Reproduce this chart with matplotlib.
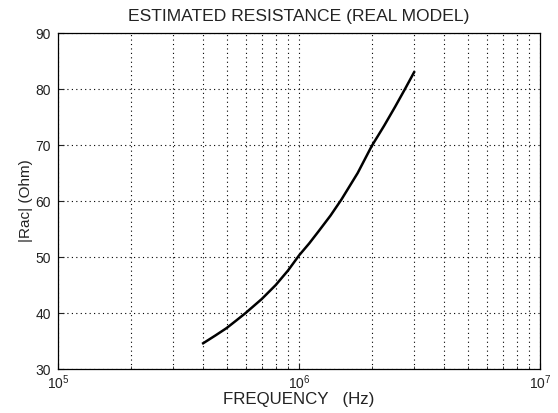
import matplotlib
matplotlib.use("Agg")
import matplotlib.pyplot as plt
from matplotlib.ticker import LogLocator, NullFormatter

# values
freq_hz = [4e5, 4.5e5, 5e5, 5.5e5, 6e5, 7e5, 8e5, 9e5, 1e6, 1.1e6, 1.2e6,
           1.35e6, 1.5e6, 1.75e6, 2e6, 2.25e6, 2.5e6, 2.75e6, 3e6]
rac_ohm = [34.6, 36.0, 37.3, 38.7, 40.0, 42.5, 45.0, 47.6, 50.3, 52.4, 54.5,
           57.4, 60.3, 65.0, 69.8, 73.4, 76.8, 80.0, 83.0]

x_lim = (1e5, 1e7)
y_lim = (30, 90)
y_ticks = [30, 40, 50, 60, 70, 80, 90]

plt.rcParams['font.family'] = ['Liberation Sans', 'DejaVu Sans']

fig = plt.figure(figsize=(5.58, 4.13), dpi=100)
ax = fig.add_axes([0.104, 0.1065, 0.864, 0.8135])

ax.plot(freq_hz, rac_ohm, color='black', linewidth=1.8)

ax.set_xscale('log')
ax.set_xlim(*x_lim)
ax.set_ylim(*y_lim)
ax.set_yticks(y_ticks)
ax.xaxis.set_minor_locator(LogLocator(base=10, subs=range(2, 10)))
ax.xaxis.set_minor_formatter(NullFormatter())

grid_style = dict(linestyle=(0, (1, 3)), color='black', linewidth=0.8)
ax.grid(True, which='major', **grid_style)
ax.grid(True, which='minor', axis='x', **grid_style)

ax.tick_params(which='both', direction='in', top=False, right=False,
               labelsize=10, colors='#222222')
ax.tick_params(which='major', length=4)
ax.tick_params(which='minor', length=2.5)
ax.tick_params(axis='x', pad=3)
ax.tick_params(axis='y', pad=5)

for s in ax.spines.values():
    s.set_linewidth(0.9)

ax.set_title('ESTIMATED RESISTANCE (REAL MODEL)', fontsize=12.6, color='#222222', pad=9)
ax.set_xlabel('FREQUENCY   (Hz)', fontsize=12.2, color='#222222', labelpad=0)
ax.set_ylabel('|Rac| (Ohm)', fontsize=11, color='#222222', labelpad=2)

fig.savefig('out.png', dpi=100)
